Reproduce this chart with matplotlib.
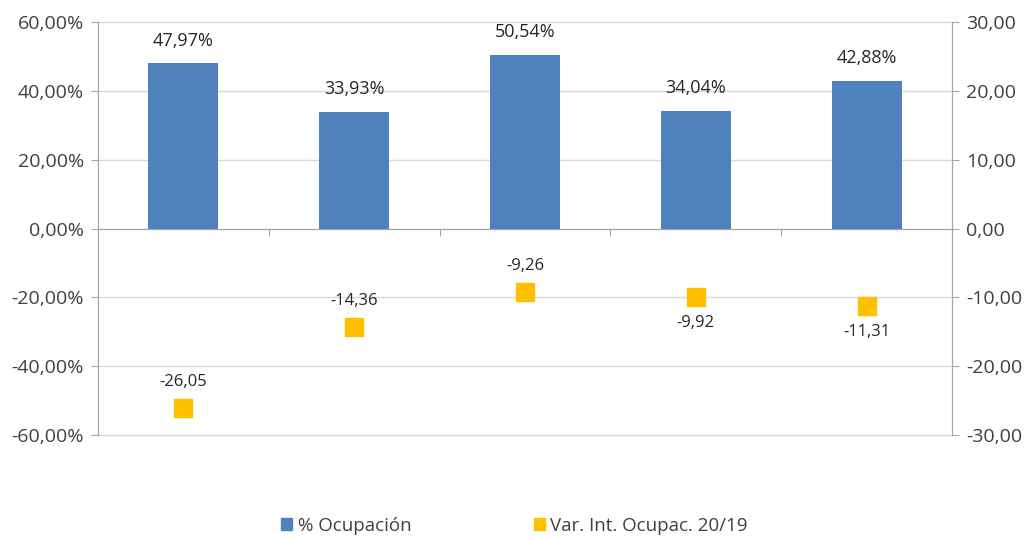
import matplotlib
matplotlib.use("Agg")
from matplotlib import pyplot as plt
from matplotlib.patches import Patch

plt.rcParams['font.family'] = ['Open Sans', 'DejaVu Sans']

categorias = ["1", "2", "3", "4", "5"]
ocupacion = [47.97, 33.93, 50.54, 34.04, 42.88]
variacion = [-26.05, -14.36, -9.26, -9.92, -11.31]
etiqueta_arriba = [True, True, True, False, False]

azul = "#4F81BD"
amarillo = "#FFC000"
gris = "#A6A6A6"

fig = plt.figure(figsize=(10.29, 5.38), dpi=100)
ax = fig.add_axes([0.0952, 0.1914, 0.8300, 0.7677])
ax2 = ax.twinx()

x = list(range(len(categorias)))
ax.bar(x, ocupacion, width=0.41, color=azul, zorder=3)
for xi, v in zip(x, ocupacion):
    ax.annotate("{:.2f}%".format(v).replace(".", ","), (xi, v), xytext=(0, 10),
                textcoords="offset points", ha="center", va="bottom", fontsize=13, color="#262626")

ax.set_ylim(-60, 60)
ax.set_xlim(-0.5, len(categorias) - 0.5)
ax.set_yticks(range(-60, 61, 20))
ax.set_yticklabels(["{:.2f}%".format(t).replace(".", ",") for t in range(-60, 61, 20)])
ax.grid(axis="y", color="#D9D9D9", linewidth=1, zorder=0)
for gl in ax.get_ygridlines():
    gl.set_clip_on(False)
ax.set_axisbelow(True)

ax2.scatter(x, variacion, marker="s", s=170, color=amarillo, zorder=4)
for xi, v, up in zip(x, variacion, etiqueta_arriba):
    off = 13 if up else -13
    ax2.annotate("{:.2f}".format(v).replace(".", ","), (xi, v), xytext=(0, off),
                 textcoords="offset points", ha="center", va="bottom" if up else "top",
                 fontsize=12, color="#262626")
ax2.set_ylim(-30, 30)
ax2.set_yticks(range(-30, 31, 10))
ax2.set_yticklabels(["{:.2f}".format(t).replace(".", ",") for t in range(-30, 31, 10)])

for a in (ax, ax2):
    a.spines["top"].set_visible(False)
    a.spines["left"].set_color(gris)
    a.spines["right"].set_color(gris)
    a.tick_params(axis="y", length=5, color=gris, labelsize=14, labelcolor="#404040", pad=5)
ax2.spines["bottom"].set_visible(False)
ax.spines["bottom"].set_position(("data", 0))
ax.spines["bottom"].set_color(gris)
ax.set_xticks([i + 0.5 for i in x[:-1]])
ax.set_xticklabels([])
ax.tick_params(axis="x", length=5, color=gris, direction="out")

handles = [Patch(color=azul), Patch(color=amarillo)]
fig.legend(handles, ["% Ocupación", "Var. Int. Ocupac. 20/19"], loc="lower center",
           bbox_to_anchor=(0.5, -0.025), ncol=2, frameon=False, fontsize=13.5,
           handlelength=0.6, handleheight=0.6, handletextpad=0.3, columnspacing=6.5,
           labelcolor="#404040")

fig.savefig("out.png", dpi=100)
